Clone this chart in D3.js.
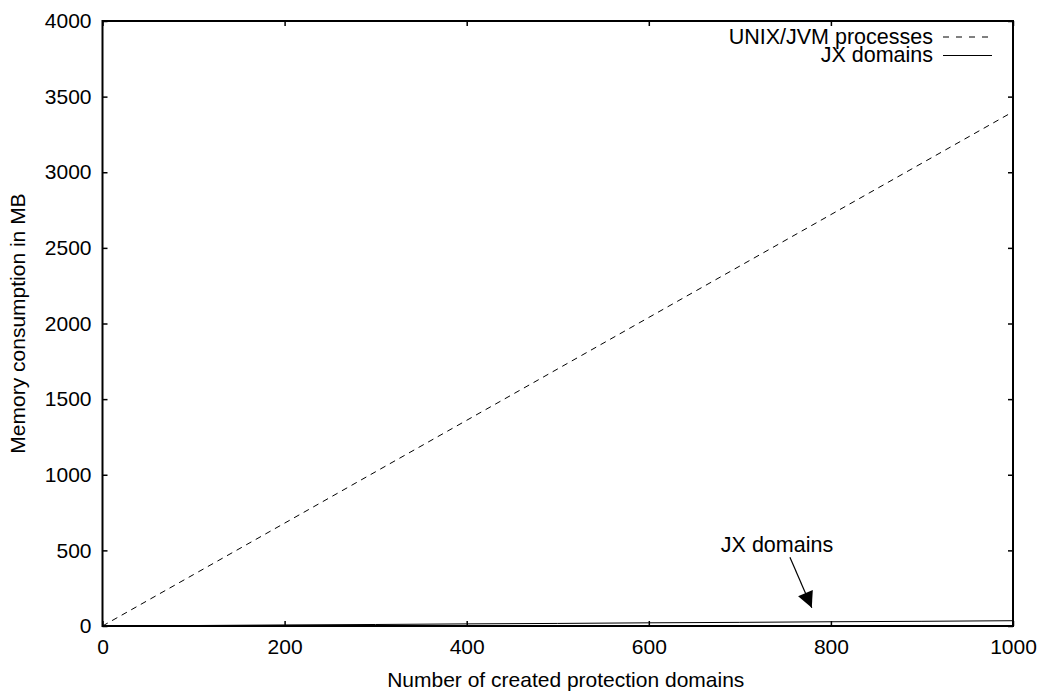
<!DOCTYPE html>
<html><head><meta charset="utf-8">
<script src="https://cdn.jsdelivr.net/npm/d3@7"></script>
<style>body{margin:0;background:#fff;} text{font-family:"Liberation Sans",Arial,sans-serif;}</style>
</head><body>
<svg id="c" width="1046" height="694"></svg>
<script>
const domains = [0,100,200,300,400,500,600,700,800,900,1000];
const unixJvm = [0,340,680,1020,1360,1700,2040,2380,2720,3060,3400];
const jxDomains = [0,3,7,10,14,17,21,24,28,31,35];
const xTicks = [0,200,400,600,800,1000];
const yTicks = [0,500,1000,1500,2000,2500,3000,3500,4000];
const seriesNames = ["UNIX/JVM processes","JX domains"];

const L=102.5, R=1013, T=21, B=626;
const svg=d3.select("#c");
const x=d3.scaleLinear().domain([0,1000]).range([L,R]);
const y=d3.scaleLinear().domain([0,4000]).range([B,T]);
const fs=21, fl=21.5;

function axis(g, ax){ g.call(ax); g.select(".domain").remove(); g.selectAll("text").attr("font-size",fs).attr("fill","#000").attr("font-family","Liberation Sans, Arial, sans-serif"); g.selectAll("line").attr("stroke","#000").attr("stroke-width",1.5);}

svg.append("g").attr("transform",`translate(0,${B})`).call(g=>axis(g,d3.axisBottom(x).tickValues(xTicks).tickSizeInner(-5).tickPadding(13).tickFormat(d3.format("d"))));
svg.append("g").attr("transform",`translate(0,${T})`).call(g=>axis(g,d3.axisTop(x).tickValues(xTicks).tickSizeInner(-5).tickFormat("")));
svg.append("g").attr("transform",`translate(${L},0)`).call(g=>axis(g,d3.axisLeft(y).tickValues(yTicks).tickSizeInner(-5).tickPadding(11).tickFormat(d3.format("d"))));
svg.append("g").attr("transform",`translate(${R},0)`).call(g=>axis(g,d3.axisRight(y).tickValues(yTicks).tickSizeInner(-5).tickFormat("")));

const line=d3.line().x((d,i)=>x(domains[i])).y(d=>y(d));
svg.append("path").datum(unixJvm).attr("d",line).attr("fill","none").attr("stroke","#000").attr("stroke-width",1).attr("stroke-dasharray","6,5");
svg.append("path").datum(jxDomains).attr("d",line).attr("fill","none").attr("stroke","#000").attr("stroke-width",1);

svg.append("rect").attr("x",L).attr("y",T).attr("width",R-L).attr("height",B-T).attr("fill","none").attr("stroke","#000").attr("stroke-width",2);

// legend
const lg=svg.append("g");
[[0,"6,7"],[1,null]].forEach(([i,da])=>{
  const yy=37+i*18.5;
  lg.append("text").attr("x",933).attr("y",yy+6.5).attr("text-anchor","end").attr("font-size",fl).text(seriesNames[i]);
  const l=lg.append("line").attr("x1",943).attr("x2",992).attr("y1",yy).attr("y2",yy).attr("stroke","#000").attr("stroke-width",1);
  if(da) l.attr("stroke-dasharray",da);
});

// annotation
svg.append("text").attr("x",777).attr("y",552).attr("text-anchor","middle").attr("font-size",fl).text("JX domains");
svg.append("defs").append("marker").attr("id","ah").attr("viewBox","0 0 10 10").attr("refX",10).attr("refY",5).attr("markerWidth",20).attr("markerHeight",16).attr("markerUnits","userSpaceOnUse").attr("orient","auto").append("path").attr("d","M0,0L10,5L0,10Z").attr("fill","#000");
svg.append("line").attr("x1",x(755)).attr("y1",y(455)).attr("x2",x(779)).attr("y2",y(120)).attr("stroke","#000").attr("stroke-width",1.2).attr("marker-end","url(#ah)");

// axis titles
svg.append("text").attr("x",(L+R)/2+8).attr("y",687).attr("text-anchor","middle").attr("font-size",fs).text("Number of created protection domains");
svg.append("text").attr("transform",`translate(25,${(T+B)/2}) rotate(-90)`).attr("text-anchor","middle").attr("font-size",fs).text("Memory consumption in MB");
</script>
</body></html>
